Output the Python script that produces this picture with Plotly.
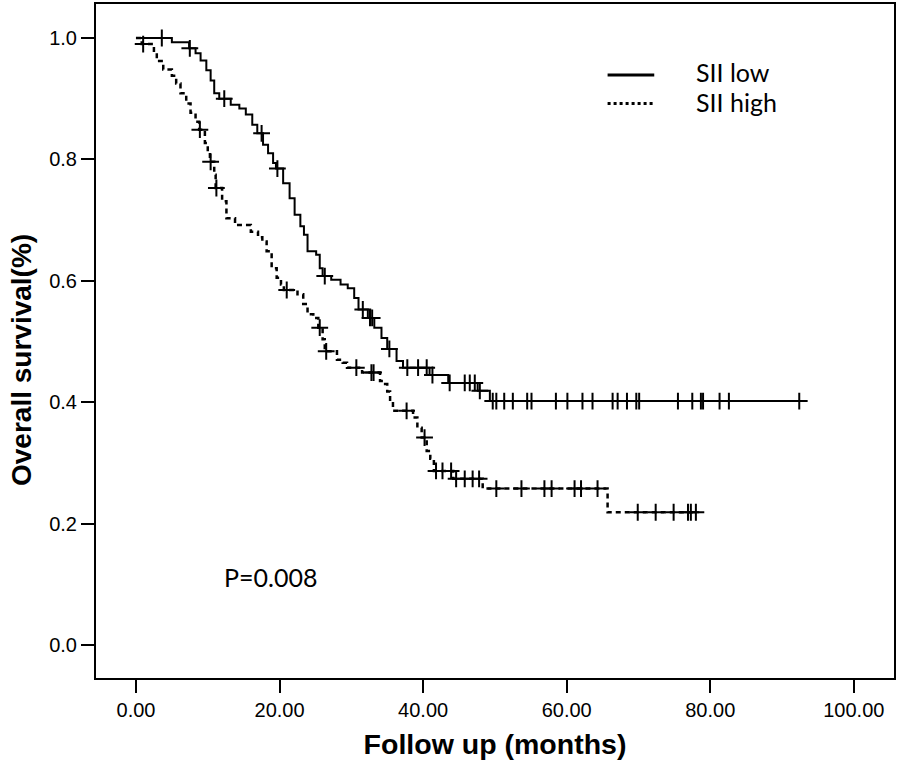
import numpy as np
import plotly.graph_objects as go

# ---- data ----
low_event_t = [5.0, 7.4, 8.3, 9.0, 9.8, 10.4, 10.9, 11.6, 13.2, 14.4, 15.3, 16.2, 16.9, 17.7,
               18.4, 19.1, 19.5, 20.5, 21.4, 22.1, 22.9, 23.4, 23.9, 25.1, 25.6, 26.0, 27.2,
               28.5, 29.5, 30.4, 31.0, 32.3, 33.2, 34.2, 35.0, 36.3, 37.2, 40.9, 43.5, 47.6, 49.3]
low_event_s = [0.993, 0.983, 0.975, 0.963, 0.947, 0.930, 0.909, 0.900, 0.890, 0.884, 0.874, 0.857,
               0.843, 0.824, 0.810, 0.794, 0.785, 0.761, 0.736, 0.709, 0.690, 0.676, 0.649, 0.643,
               0.621, 0.608, 0.602, 0.594, 0.588, 0.572, 0.553, 0.539, 0.523, 0.506, 0.488, 0.468,
               0.457, 0.445, 0.432, 0.419, 0.402]
low_censor = [3.6, 7.5, 12.3, 17.5, 19.7, 26.3, 31.6, 32.6, 32.9, 35.3, 37.8, 39.3, 40.5, 41.3,
              43.7, 45.8, 46.5, 47.2, 47.9, 49.7, 50.2, 51.3, 52.5, 54.5, 55.1, 58.5, 60.1, 62.2,
              63.6, 66.4, 67.1, 68.4, 69.7, 70.1, 75.5, 77.5, 78.7, 79.0, 81.3, 82.6, 92.4]

high_event_t = [0.8, 2.5, 2.9, 3.8, 5.0, 5.6, 6.2, 7.0, 7.6, 8.3, 8.8, 9.6, 10.0, 10.3, 10.9, 11.1,
                12.0, 12.6, 13.8, 16.0, 17.0, 17.6, 18.2, 18.9, 19.6, 20.2, 20.6, 22.5, 23.3, 23.9,
                24.7, 25.4, 26.0, 26.3, 28.0, 28.8, 29.4, 31.5, 34.0, 34.5, 35.0, 35.4, 35.8, 38.6,
                39.2, 39.8, 40.5, 41.0, 41.5, 44.2, 48.3, 65.7]
high_event_s = [0.990, 0.975, 0.962, 0.948, 0.938, 0.925, 0.909, 0.892, 0.877, 0.862, 0.849, 0.827,
                0.812, 0.796, 0.775, 0.753, 0.731, 0.703, 0.692, 0.681, 0.672, 0.665, 0.649, 0.621,
                0.605, 0.594, 0.585, 0.578, 0.562, 0.545, 0.539, 0.523, 0.504, 0.484, 0.470, 0.465,
                0.457, 0.449, 0.435, 0.430, 0.418, 0.402, 0.386, 0.375, 0.358, 0.342, 0.320, 0.307,
                0.287, 0.274, 0.258, 0.219]
high_censor = [1.0, 8.9, 10.4, 11.2, 21.0, 25.6, 26.5, 30.7, 32.8, 33.1, 37.7, 40.2, 41.8, 42.7,
               43.9, 44.6, 45.8, 46.9, 47.8, 50.2, 53.7, 56.9, 57.9, 61.1, 62.0, 64.3, 69.9, 72.4,
               74.9, 76.9, 77.3, 78.0]

x_ticks = [0, 20, 40, 60, 80, 100]
x_tick_labels = ["0.00", "20.00", "40.00", "60.00", "80.00", "100.00"]
y_ticks = [0.0, 0.2, 0.4, 0.6, 0.8, 1.0]
y_tick_labels = ["0.0", "0.2", "0.4", "0.6", "0.8", "1.0"]
series_names = ["SII low", "SII high"]
x_title = "Follow up (months)"
y_title = "Overall survival(%)"
p_text = "P=0.008"


def km_path(ev_t, ev_s, censor):
    end_t = max(max(ev_t), max(censor))
    xs = [0.0] + list(ev_t) + [end_t]
    ys = [1.0] + list(ev_s) + [ev_s[-1]]
    return xs, ys


def surv_at(ev_t, ev_s, times):
    ev_t = np.asarray(ev_t)
    ev_s = np.asarray(ev_s)
    out = []
    for t in times:
        i = np.searchsorted(ev_t, t, side="right") - 1
        out.append(1.0 if i < 0 else float(ev_s[i]))
    return out


fig = go.Figure()

for ev_t, ev_s, cens, dash, width in [
    (low_event_t, low_event_s, low_censor, "solid", 2),
    (high_event_t, high_event_s, high_censor, "5px,4px", 2.5),
]:
    xs, ys = km_path(ev_t, ev_s, cens)
    fig.add_trace(go.Scatter(x=xs, y=ys, mode="lines", line_shape="hv",
                             line=dict(color="black", width=width, dash=dash),
                             showlegend=False, hoverinfo="skip"))
    fig.add_trace(go.Scatter(x=cens, y=surv_at(ev_t, ev_s, cens), mode="markers",
                             marker=dict(symbol="cross-thin", size=12,
                                         line=dict(color="black", width=2)),
                             showlegend=False, hoverinfo="skip"))

# legend drawn manually
leg_x0, leg_x1, leg_text_x = 65.7, 72.2, 77.8
fig.add_shape(type="line", x0=leg_x0, x1=leg_x1, y0=0.939, y1=0.939,
              line=dict(color="black", width=3))
fig.add_shape(type="line", x0=leg_x0, x1=leg_x1, y0=0.892, y1=0.892,
              line=dict(color="black", width=3, dash="dot"))
fig.add_annotation(x=leg_text_x, y=0.944, text=series_names[0], showarrow=False,
                   xanchor="left", yanchor="middle",
                   font=dict(family="Lato", size=25, color="black"))
fig.add_annotation(x=leg_text_x, y=0.895, text=series_names[1], showarrow=False,
                   xanchor="left", yanchor="middle",
                   font=dict(family="Lato", size=25, color="black"))
fig.add_annotation(x=12.0, y=0.112, text=p_text, showarrow=False,
                   xanchor="left", yanchor="middle",
                   font=dict(family="Lato", size=25, color="black"))

# y-axis title placed as a rotated annotation (sits a little below axis centre)
fig.add_annotation(xref="paper", yref="paper", x=-0.0926, y=0.472,
                   text="<b>" + y_title + "</b>", textangle=-90, showarrow=False,
                   xanchor="center", yanchor="middle",
                   font=dict(family="Liberation Sans", size=28, color="black"))

axis_common = dict(showgrid=False, zeroline=False, showline=True, linecolor="black",
                   linewidth=2, mirror=True, ticks="outside", ticklen=13, tickwidth=2,
                   tickcolor="black",
                   tickfont=dict(family="Liberation Sans", size=20, color="black"))

fig.update_xaxes(range=[-5.57, 105.6], tickvals=x_ticks, ticktext=x_tick_labels,
                 title=dict(text="<b>" + x_title + "</b>", standoff=14,
                            font=dict(family="Liberation Sans", size=28.5, color="black")),
                 **axis_common)
fig.update_yaxes(range=[-0.054, 1.056], tickvals=y_ticks, ticktext=y_tick_labels,
                 **axis_common)

fig.update_layout(width=898, height=765, plot_bgcolor="white", paper_bgcolor="white",
                  margin=dict(l=96, r=3, t=2, b=87), showlegend=False)

fig.write_html("out.html", config={"displayModeBar": False},
               post_script="document.body.style.margin='0';document.body.style.padding='0';")
